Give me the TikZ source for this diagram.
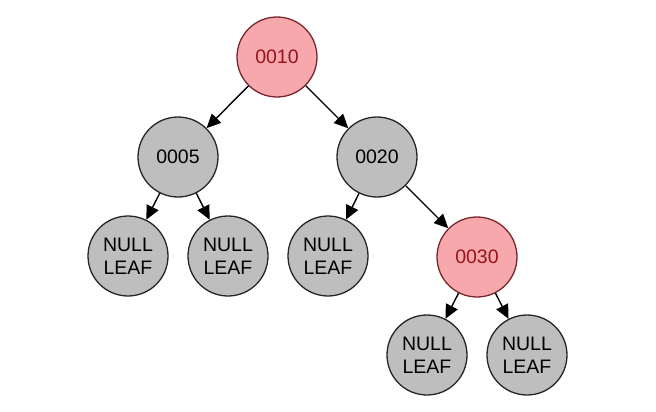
\documentclass[tikz,border=0pt]{standalone}
\usepackage{fontspec}
\setmainfont{Liberation Sans}
\usetikzlibrary{arrows.meta}
\definecolor{pinkfill}{RGB}{247,168,172}
\definecolor{pinkdraw}{RGB}{120,40,45}
\definecolor{pinktext}{RGB}{150,20,25}
\definecolor{grayfill}{RGB}{190,190,190}
\begin{document}
\begin{tikzpicture}[x=1pt,y=-1pt,
  nd/.style={circle,minimum size=80pt,inner sep=0pt,line width=1.3pt,font=\fontsize{19.5}{23}\selectfont,align=center},
  rednd/.style={nd,fill=pinkfill,draw=pinkdraw,text=pinktext},
  graynd/.style={nd,fill=grayfill,draw=black!85},
  conn/.style={line width=1.4pt,-{Triangle[length=14pt,width=13pt]}}]
\useasboundingbox (0,0) rectangle (656,412);
\node[rednd]  (root) at (277,57)  {0010};
\node[graynd] (n5)   at (178,157) {0005};
\node[graynd] (n20)  at (377,157) {0020};
\node[graynd] (l1)   at (128,256) {NULL\\LEAF};
\node[graynd] (l2)   at (228,256) {NULL\\LEAF};
\node[graynd] (l3)   at (328,256) {NULL\\LEAF};
\node[rednd]  (n30)  at (477,257) {0030};
\node[graynd] (l4)   at (427,355) {NULL\\LEAF};
\node[graynd] (l5)   at (527,355) {NULL\\LEAF};
\draw[conn] (root) -- (n5);
\draw[conn] (root) -- (n20);
\draw[conn] (n5) -- (l1);
\draw[conn] (n5) -- (l2);
\draw[conn] (n20) -- (l3);
\draw[conn] (n20) -- (n30);
\draw[conn] (n30) -- (l4);
\draw[conn] (n30) -- (l5);
\end{tikzpicture}
\end{document}
